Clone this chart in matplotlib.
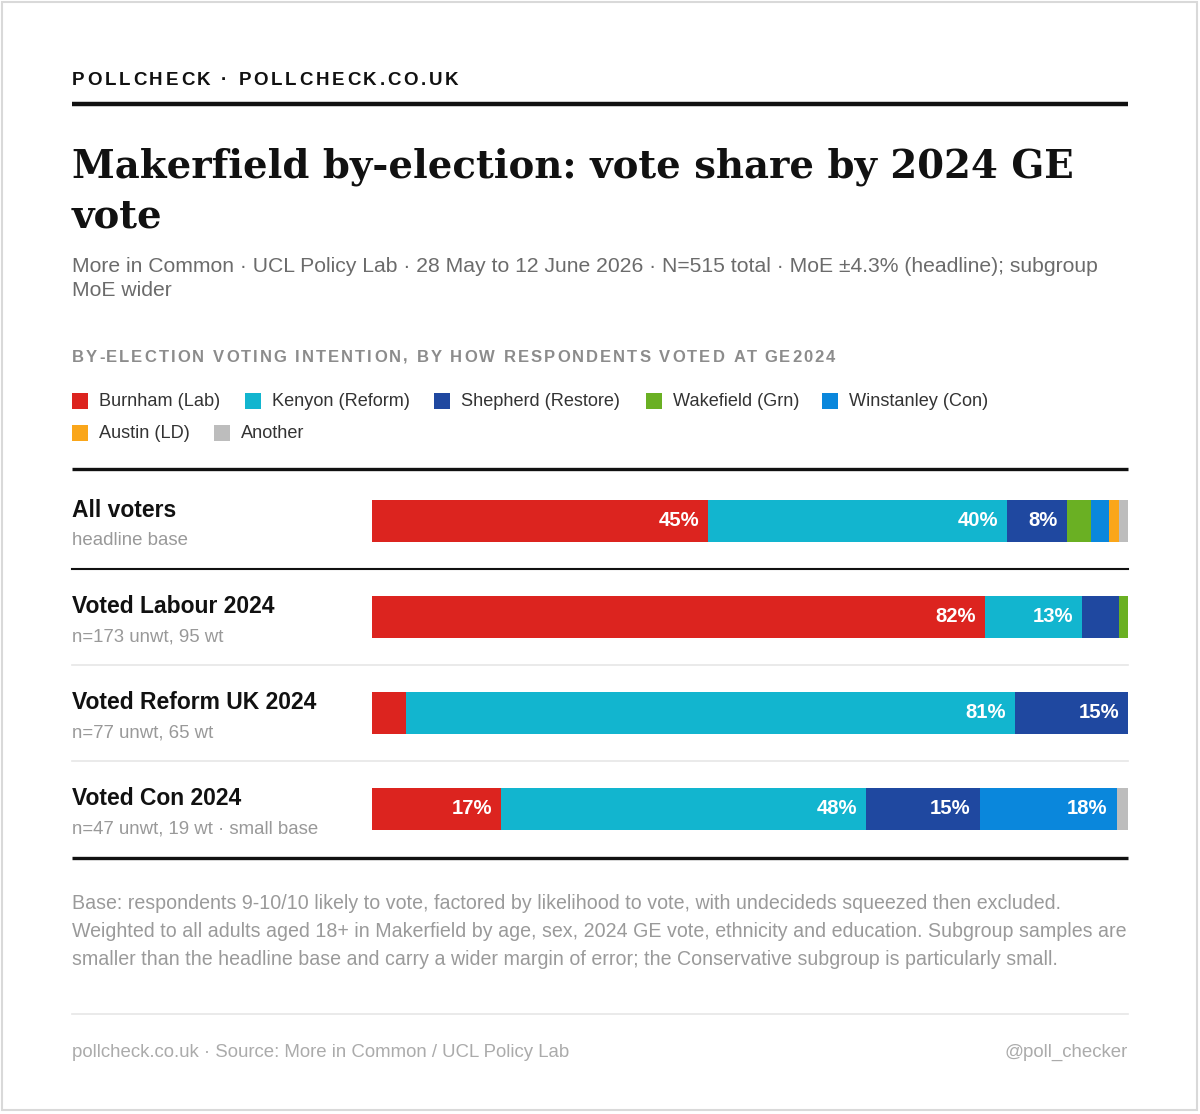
import matplotlib
matplotlib.use("Agg")
import matplotlib.pyplot as plt
from matplotlib.patches import Rectangle
from matplotlib.transforms import blended_transform_factory

plt.rcParams['font.family'] = ['Liberation Sans', 'DejaVu Sans']

# ---- data ----
groups = ["All voters", "Voted Labour 2024", "Voted Reform UK 2024", "Voted Con 2024"]
bases = ["headline base", "n=173 unwt, 95 wt", "n=77 unwt, 65 wt",
         "n=47 unwt, 19 wt \u00b7 small base"]
parties = ["Burnham (Lab)", "Kenyon (Reform)", "Shepherd (Restore)", "Wakefield (Grn)",
           "Winstanley (Con)", "Austin (LD)", "Another"]
colors = ["#dc241f", "#12b5cf", "#1f48a0", "#6ab023", "#0a87dc", "#faa61a", "#bdbdbd"]

# vote share (%) per party, one entry per group
lab = [45, 82, 4.5, 17]
reform = [40, 13, 81, 48]
restore = [8, 4.9, 15, 15]
green = [3.3, 1.2, 0, 0]
con = [2.3, 0, 0, 18]
ld = [1.4, 0, 0, 0]
other = [1.2, 0, 0, 1.5]
shares = [lab, reform, restore, green, con, ld, other]

W, H = 1200, 1114
fig = plt.figure(figsize=(W / 100, H / 100), dpi=100)
fig.patch.set_facecolor("white")

# background axes in pixel coordinates (y down)
bg = fig.add_axes([0, 0, 1, 1])
bg.set_xlim(0, W)
bg.set_ylim(H, 0)
bg.axis("off")

renderer = fig.canvas.get_renderer()


def text_width(s, **kw):
    t = bg.text(0, 0, s, **kw)
    w = t.get_window_extent(renderer).width
    t.remove()
    return w


def spaced_text(x, y, s, spacing, **kw):
    ref = text_width("X", **kw)
    for i, ch in enumerate(s):
        if ch == " ":
            continue
        dx = text_width(s[:i] + "X", **kw) - ref if i > 0 else 0
        bg.text(x + dx + i * spacing, y, ch, va="baseline", ha="left", **kw)


bg.add_patch(Rectangle((2, 2), W - 5, H - 6, fill=False, ec="#d9d9d9", lw=1.5))

# header
spaced_text(72, 85, "POLLCHECK \u00b7 POLLCHECK.CO.UK", 2.75,
            fontsize=13.5, fontweight="bold", color="#111111")
bg.plot([72, 1128], [104, 104], color="#111111", lw=3.2, solid_capstyle="butt")

# title + subtitle
title_kw = dict(fontsize=27.8, fontweight="bold", color="#111111",
                family=["DejaVu Serif"], va="baseline")
bg.text(72, 178, "Makerfield by-election: vote share by 2024 GE", **title_kw)
bg.text(72, 228, "vote", **title_kw)
sub_kw = dict(fontsize=15.2, color="#6b6b6b", va="baseline")
bg.text(72, 272, "More in Common \u00b7 UCL Policy Lab \u00b7 28 May to 12 June 2026 \u00b7 "
        "N=515 total \u00b7 MoE \u00b14.3% (headline); subgroup", **sub_kw)
bg.text(72, 296, "MoE wider", **sub_kw)

spaced_text(72, 362, "BY-ELECTION VOTING INTENTION, BY HOW RESPONDENTS VOTED AT GE2024",
            2.05, fontsize=12, fontweight="bold", color="#8c8c8c")

# legend
leg_pos = [(72, 401), (245, 401), (434, 401), (646, 401), (822, 401), (72, 433), (214, 433)]
for (lx, ly), name, col in zip(leg_pos, parties, colors):
    bg.add_patch(Rectangle((lx, ly - 8), 16, 16, color=col, lw=0))
    bg.text(lx + 27, ly, name, fontsize=13.1, color="#333333", va="center")

# bars
ax = fig.add_axes([372 / W, 1 - 857 / H, 756 / W, 384 / H])
ax.set_xlim(0, 100)
ax.set_ylim(3.5, -0.5)
ax.axis("off")

n = len(groups)
totals = [sum(s[i] for s in shares) for i in range(n)]
left = [0.0] * n
for vals, col in zip(shares, colors):
    widths = [v / t * 100 for v, t in zip(vals, totals)]
    ax.barh(range(n), widths, left=left, height=0.44, color=col, lw=0)
    for i, (v, w) in enumerate(zip(vals, widths)):
        if v >= 6:
            ax.annotate(f"{round(v)}%", (left[i] + w, i), xytext=(-9, 0),
                        textcoords="offset pixels", ha="right", va="center",
                        fontsize=14.6, fontweight="bold", color="white")
    left = [l + w for l, w in zip(left, widths)]

# row labels and separators
tr = blended_transform_factory(bg.transData, ax.transData)
for i, (g, b) in enumerate(zip(groups, bases)):
    bg.annotate(g, (72, i), xycoords=tr, xytext=(0, 4), textcoords="offset pixels",
                fontsize=16.5, fontweight="bold", color="#111111", va="baseline")
    bg.annotate(b, (72, i), xycoords=tr, xytext=(0, -24), textcoords="offset pixels",
                fontsize=13.4, color="#999999", va="baseline")
for i in range(n - 1):
    if i == 0:
        bg.plot([72, 1128], [i + 0.5, i + 0.5], transform=tr, color="#111111", lw=1.5)
    else:
        bg.plot([72, 1128], [i + 0.5, i + 0.5], transform=tr, color="#e6e6e6", lw=1.2)
bg.plot([72, 1128], [469, 469], color="#111111", lw=2.4, solid_capstyle="butt")
bg.plot([72, 1128], [858, 858], color="#111111", lw=2.4, solid_capstyle="butt")

# footnote
note = ["Base: respondents 9-10/10 likely to vote, factored by likelihood to vote, with "
        "undecideds squeezed then excluded.",
        "Weighted to all adults aged 18+ in Makerfield by age, sex, 2024 GE vote, ethnicity "
        "and education. Subgroup samples are",
        "smaller than the headline base and carry a wider margin of error; the Conservative "
        "subgroup is particularly small."]
for k, line in enumerate(note):
    bg.text(72, 909 + 28 * k, line, fontsize=14.1, color="#9a9a9a", va="baseline")

bg.plot([72, 1128], [1014, 1014], color="#e6e6e6", lw=1.2)
bg.text(72, 1057, "pollcheck.co.uk \u00b7 Source: More in Common / UCL Policy Lab",
        fontsize=13.4, color="#ababab", va="baseline")
bg.text(1128, 1057, "@poll_checker", fontsize=13.4, color="#ababab", va="baseline",
        ha="right")

fig.savefig("out.png", dpi=100, facecolor="white")
